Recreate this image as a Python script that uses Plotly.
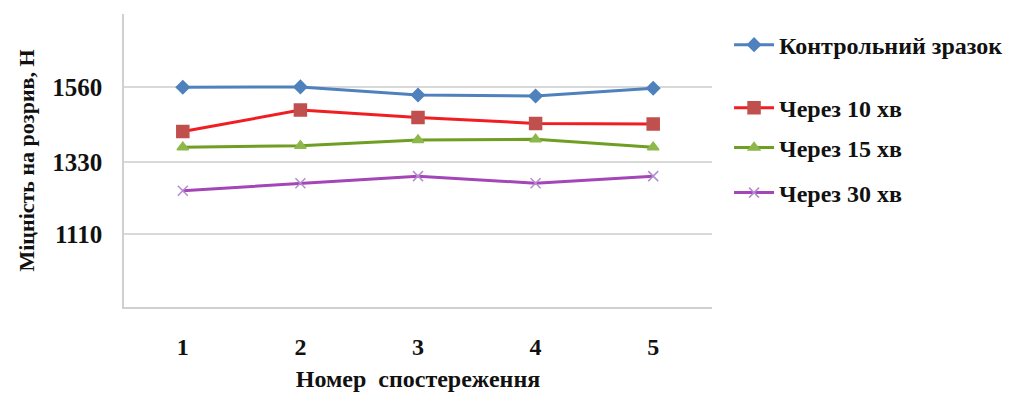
import plotly.graph_objects as go

observations = [1, 2, 3, 4, 5]
control = [1560, 1561, 1536, 1533, 1557]
after_10 = [1424, 1490, 1467, 1449, 1447]
after_15 = [1376, 1380, 1398, 1400, 1376]
after_30 = [1242, 1265, 1287, 1265, 1287]

y_tickvals = [885, 1110, 1330, 1560, 1785]
y_ticktext = ["", "1110", "1330", "1560", ""]
x_ticktext = ["1", "2", "3", "4", "5"]

series = [
    ("Контрольний зразок", control, "#4F81BD", "#4F81BD", "diamond", 10, "legend"),
    ("Через 10 хв", after_10, "#F01E23", "#C0504D", "square", 12, "legend2"),
    ("Через 15 хв", after_15, "#6E9E22", "#8DB84A", "triangle-up", 10, "legend3"),
    ("Через 30 хв", after_30, "#A445B8", "#B48CD0", "x-thin", 10, "legend4"),
]
legend_y = {"legend": 0.894, "legend2": 0.679, "legend3": 0.543, "legend4": 0.389}

font_family = "Liberation Serif, Times New Roman, serif"
legend_font = dict(family=font_family, size=24, color="#111111", weight="bold")

fig = go.Figure()
for name, vals, lc, mc, sym, ms, lg in series:
    fig.add_trace(go.Scatter(
        x=observations, y=vals, name=name, mode="lines+markers",
        line=dict(color=lc, width=3),
        marker=dict(symbol=sym, size=ms, color=mc, line=dict(color=mc, width=1.5)),
        legend=lg,
    ))

legends = {}
for lg, yv in legend_y.items():
    legends[lg] = dict(
        x=1.029, y=yv, xanchor="left", yanchor="middle",
        itemwidth=40, font=legend_font, bgcolor="rgba(0,0,0,0)",
    )

fig.update_layout(
    width=1018, height=401,
    margin=dict(l=116, r=314, t=6, b=102),
    paper_bgcolor="white", plot_bgcolor="white",
    font=dict(family=font_family, size=22, color="#111111"),
    showlegend=True,
    xaxis=dict(
        range=[0.5, 5.5], tickvals=observations, ticktext=x_ticktext,
        showgrid=False, zeroline=False,
        showline=True, linecolor="#D0D0D0", linewidth=1.5,
        ticks="outside", ticklen=17, tickcolor="rgba(0,0,0,0)",
        tickfont=dict(family=font_family, size=24, weight="bold"),
        title=dict(text="Номер  спостереження", standoff=12,
                   font=dict(family=font_family, size=24, weight="bold")),
    ),
    yaxis=dict(
        range=[885, 1785], tickvals=y_tickvals, ticktext=y_ticktext,
        showgrid=True, gridcolor="#D9D9D9", gridwidth=1.5, zeroline=False,
        showline=True, linecolor="#D0D0D0", linewidth=1.5,
        ticks="outside", ticklen=15, tickcolor="rgba(0,0,0,0)",
        tickfont=dict(family=font_family, size=25, weight="bold"),
        title=dict(text="Міцність на розрив, Н", standoff=12,
                   font=dict(family=font_family, size=22, weight="bold")),
    ),
    **legends,
)

fig.write_html("out.html")
